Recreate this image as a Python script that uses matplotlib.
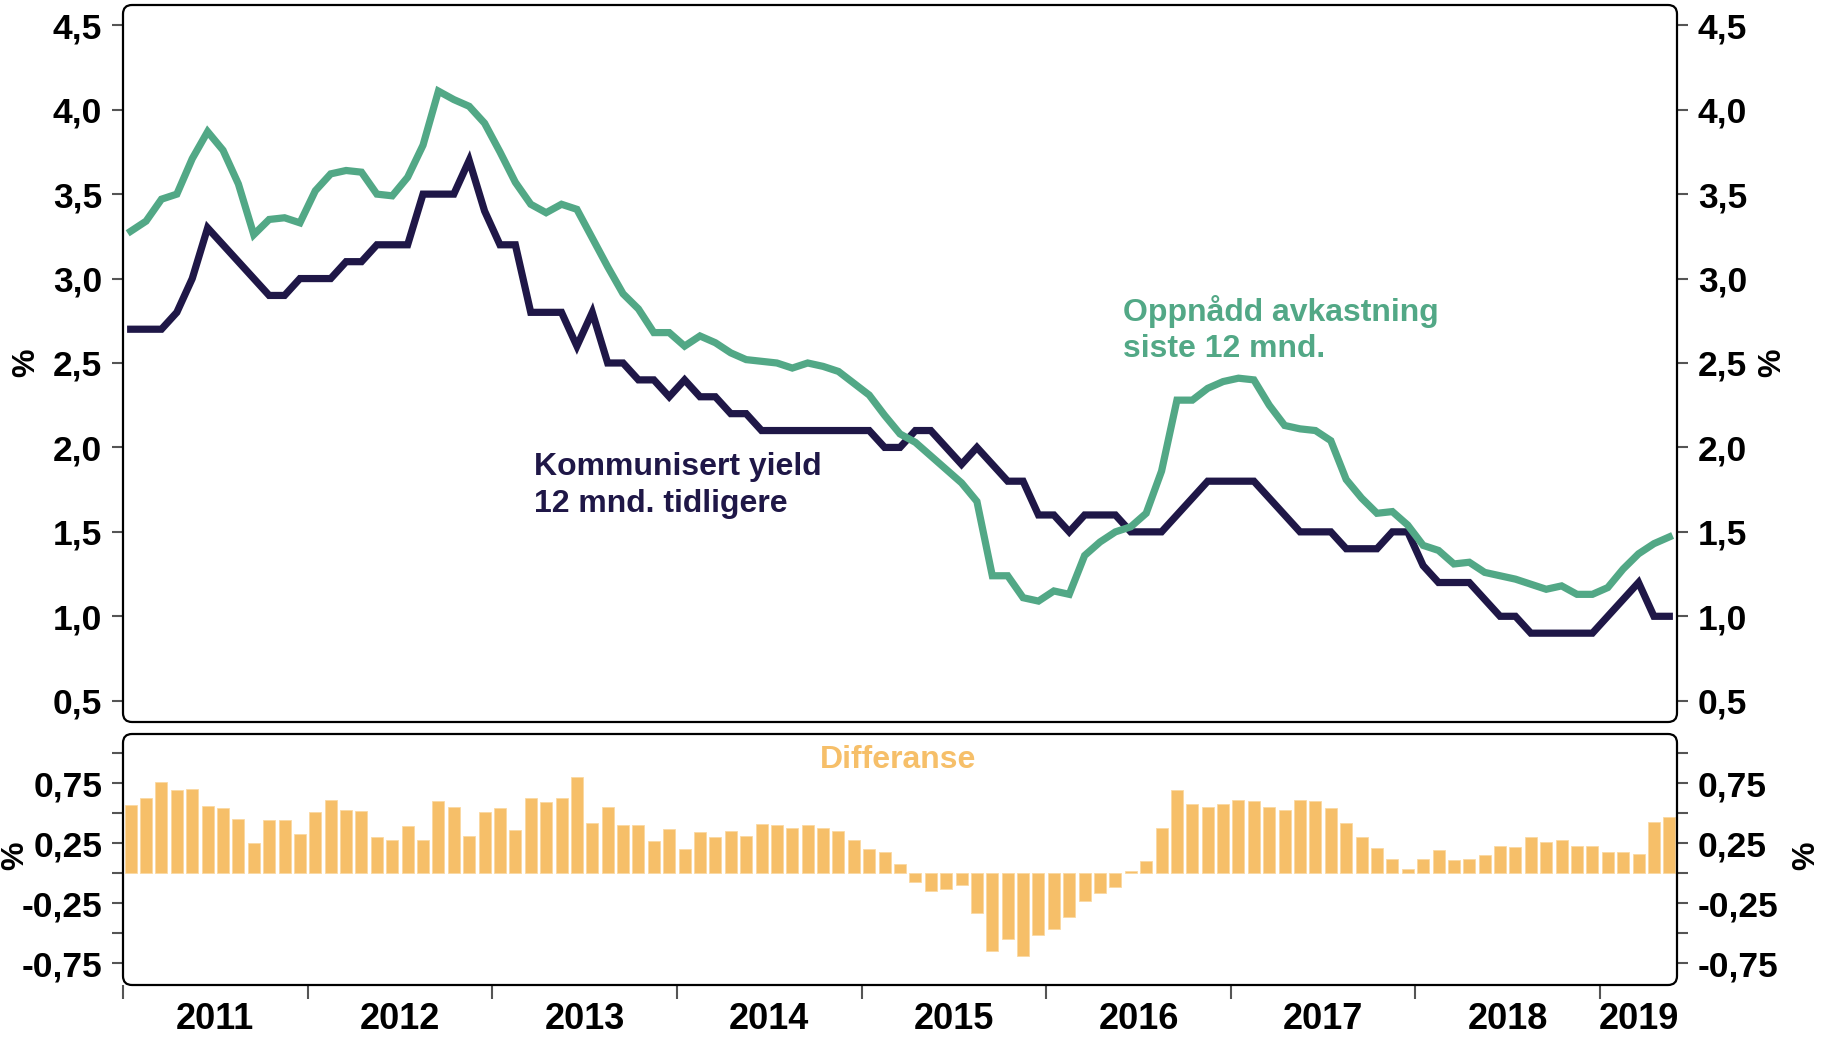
import numpy as np
import matplotlib
matplotlib.use("Agg")
import matplotlib.pyplot as plt
from matplotlib.patches import FancyBboxPatch
from matplotlib.transforms import IdentityTransform

# Monthly data, Jan 2011 - May 2019
years = ["2011", "2012", "2013", "2014", "2015", "2016", "2017", "2018", "2019"]

kommunisert = [2.7, 2.7, 2.7, 2.8, 3.0, 3.3, 3.2, 3.1, 3.0, 2.9,
               2.9, 3.0, 3.0, 3.0, 3.1, 3.1, 3.2, 3.2, 3.2, 3.5,
               3.5, 3.5, 3.7, 3.4, 3.2, 3.2, 2.8, 2.8, 2.8, 2.6,
               2.8, 2.5, 2.5, 2.4, 2.4, 2.3, 2.4, 2.3, 2.3, 2.2,
               2.2, 2.1, 2.1, 2.1, 2.1, 2.1, 2.1, 2.1, 2.1, 2.0,
               2.0, 2.1, 2.1, 2.0, 1.9, 2.0, 1.9, 1.8, 1.8, 1.6,
               1.6, 1.5, 1.6, 1.6, 1.6, 1.5, 1.5, 1.5, 1.6, 1.7,
               1.8, 1.8, 1.8, 1.8, 1.7, 1.6, 1.5, 1.5, 1.5, 1.4,
               1.4, 1.4, 1.5, 1.5, 1.3, 1.2, 1.2, 1.2, 1.1, 1.0,
               1.0, 0.9, 0.9, 0.9, 0.9, 0.9, 1.0, 1.1, 1.2, 1.0,
               1.0]

oppnaadd = [3.28, 3.34, 3.47, 3.50, 3.71, 3.87, 3.76, 3.56, 3.26, 3.35,
            3.36, 3.33, 3.52, 3.62, 3.64, 3.63, 3.50, 3.49, 3.60, 3.79,
            4.11, 4.06, 4.02, 3.92, 3.75, 3.57, 3.44, 3.39, 3.44, 3.41,
            3.24, 3.07, 2.91, 2.82, 2.68, 2.68, 2.60, 2.66, 2.62, 2.56,
            2.52, 2.51, 2.50, 2.47, 2.50, 2.48, 2.45, 2.38, 2.31, 2.19,
            2.08, 2.03, 1.95, 1.87, 1.79, 1.68, 1.24, 1.24, 1.11, 1.09,
            1.15, 1.13, 1.36, 1.44, 1.50, 1.53, 1.61, 1.86, 2.28, 2.28,
            2.35, 2.39, 2.41, 2.40, 2.25, 2.13, 2.11, 2.10, 2.04, 1.81,
            1.70, 1.61, 1.62, 1.54, 1.42, 1.39, 1.31, 1.32, 1.26, 1.24,
            1.22, 1.19, 1.16, 1.18, 1.13, 1.13, 1.17, 1.28, 1.37, 1.43,
            1.47]

differanse = [0.57, 0.63, 0.76, 0.69, 0.70, 0.56, 0.54, 0.45, 0.25, 0.44,
              0.44, 0.33, 0.51, 0.61, 0.53, 0.52, 0.30, 0.28, 0.39, 0.28,
              0.60, 0.55, 0.31, 0.51, 0.54, 0.36, 0.63, 0.59, 0.63, 0.80,
              0.42, 0.55, 0.40, 0.40, 0.27, 0.37, 0.20, 0.34, 0.30, 0.35,
              0.31, 0.41, 0.40, 0.38, 0.40, 0.38, 0.35, 0.28, 0.20, 0.18,
              0.08, -0.07, -0.15, -0.13, -0.10, -0.33, -0.65, -0.55, -0.69, -0.51,
              -0.46, -0.36, -0.23, -0.16, -0.11, 0.02, 0.10, 0.375, 0.69, 0.58,
              0.55, 0.58, 0.61, 0.60, 0.55, 0.53, 0.61, 0.60, 0.54, 0.42,
              0.30, 0.21, 0.12, 0.04, 0.12, 0.19, 0.11, 0.12, 0.15, 0.23,
              0.22, 0.30, 0.26, 0.28, 0.23, 0.23, 0.18, 0.18, 0.16, 0.43,
              0.47]

top_ticks = [0.5, 1.0, 1.5, 2.0, 2.5, 3.0, 3.5, 4.0, 4.5]
bottom_ticks = [-0.75, -0.5, -0.25, 0.0, 0.25, 0.5, 0.75, 1.0]
bottom_labels = ["-0,75", "", "-0,25", "", "0,25", "", "0,75", ""]

NAVY = "#1f1747"
GREEN = "#52a886"
ORANGE = "#f6bf69"
TICKC = "#555555"

plt.rcParams["font.family"] = ["Liberation Sans", "DejaVu Sans"]
plt.rcParams["font.weight"] = "bold"

W, H = 1826, 1037
fig = plt.figure(figsize=(W / 100, H / 100), dpi=100)

x = np.arange(len(kommunisert))
xlim = (-0.5, len(kommunisert) - 0.5)

# pixel boxes (left, top, right, bottom)
top_box = (123, 5, 1677, 722)
bot_box = (123, 734, 1677, 985)


def add_axes_px(box):
    l, t, r, b = box
    return fig.add_axes([l / W, 1 - b / H, (r - l) / W, (b - t) / H])


ax = add_axes_px(top_box)
ax2 = add_axes_px(bot_box)

# top panel lines
ax.plot(x, kommunisert, color=NAVY, lw=5.2, solid_joinstyle="miter")
ax.plot(x, oppnaadd, color=GREEN, lw=5.2, solid_joinstyle="miter")
ax.set_xlim(*xlim)
ax.set_ylim(0.374, 4.62)
ax.set_yticks(top_ticks)
ax.set_yticklabels([f"{t:.1f}".replace(".", ",") for t in top_ticks])
ax.set_xticks([])

ax.text(26.2, 1.775, "Kommunisert yield\n12 mnd. tidligere", color=NAVY,
        fontsize=23, fontweight="bold", va="center", ha="left", linespacing=1.28)
ax.text(64.5, 2.70, "Oppnådd avkastning\nsiste 12 mnd.", color=GREEN,
        fontsize=23, fontweight="bold", va="center", ha="left", linespacing=1.25)

# bottom panel bars
ax2.bar(x, differanse, width=0.78, color=ORANGE, edgecolor="#fbd9a2", linewidth=0.6)
ax2.set_xlim(*xlim)
ax2.set_ylim(-0.93, 1.16)
ax2.set_yticks(bottom_ticks)
ax2.set_yticklabels(bottom_labels)
ax2.text(49.9, 0.94, "Differanse", color=ORANGE, fontsize=23,
         fontweight="bold", ha="center", va="center")

year_edges = np.arange(-0.5, len(x), 12)
ax2.set_xticks(year_edges)
ax2.set_xticklabels([])
centers = [e + 6 for e in year_edges[:-1]] + [(year_edges[-1] + xlim[1]) / 2]
ax2.set_xticks(centers, minor=True)
ax2.set_xticklabels(years, minor=True)
ax2.tick_params(axis="x", which="major", direction="out", length=10,
                width=1.5, color=TICKC)
ax2.tick_params(axis="x", which="minor", length=0, pad=12, labelsize=26)

for a in (ax, ax2):
    for s in a.spines.values():
        s.set_visible(False)
    a.tick_params(axis="y", which="major", left=True, right=True,
                  labelleft=True, labelright=True, direction="out",
                  length=8, width=1.5, color=TICKC, labelsize=25.5, pad=7)
    a.set_facecolor("none")

# rounded frames
for box in (top_box, bot_box):
    l, t, r, b = box
    frame = FancyBboxPatch((l, H - b), r - l, b - t,
                           boxstyle="round,pad=0,rounding_size=9",
                           transform=IdentityTransform(), fill=False,
                           edgecolor="black", linewidth=1.6, zorder=10)
    fig.patches.append(frame)

# axis unit labels
fig.text(26 / W, 1 - 363 / H, "%", rotation=90, fontsize=23,
         fontweight="bold", ha="center", va="center")
fig.text(1772 / W, 1 - 363 / H, "%", rotation=90, fontsize=23,
         fontweight="bold", ha="center", va="center")
fig.text(15 / W, 1 - 856 / H, "%", rotation=90, fontsize=23,
         fontweight="bold", ha="center", va="center")
fig.text(1806 / W, 1 - 856 / H, "%", rotation=90, fontsize=23,
         fontweight="bold", ha="center", va="center")

fig.savefig("out.png", dpi=100, facecolor="white")
